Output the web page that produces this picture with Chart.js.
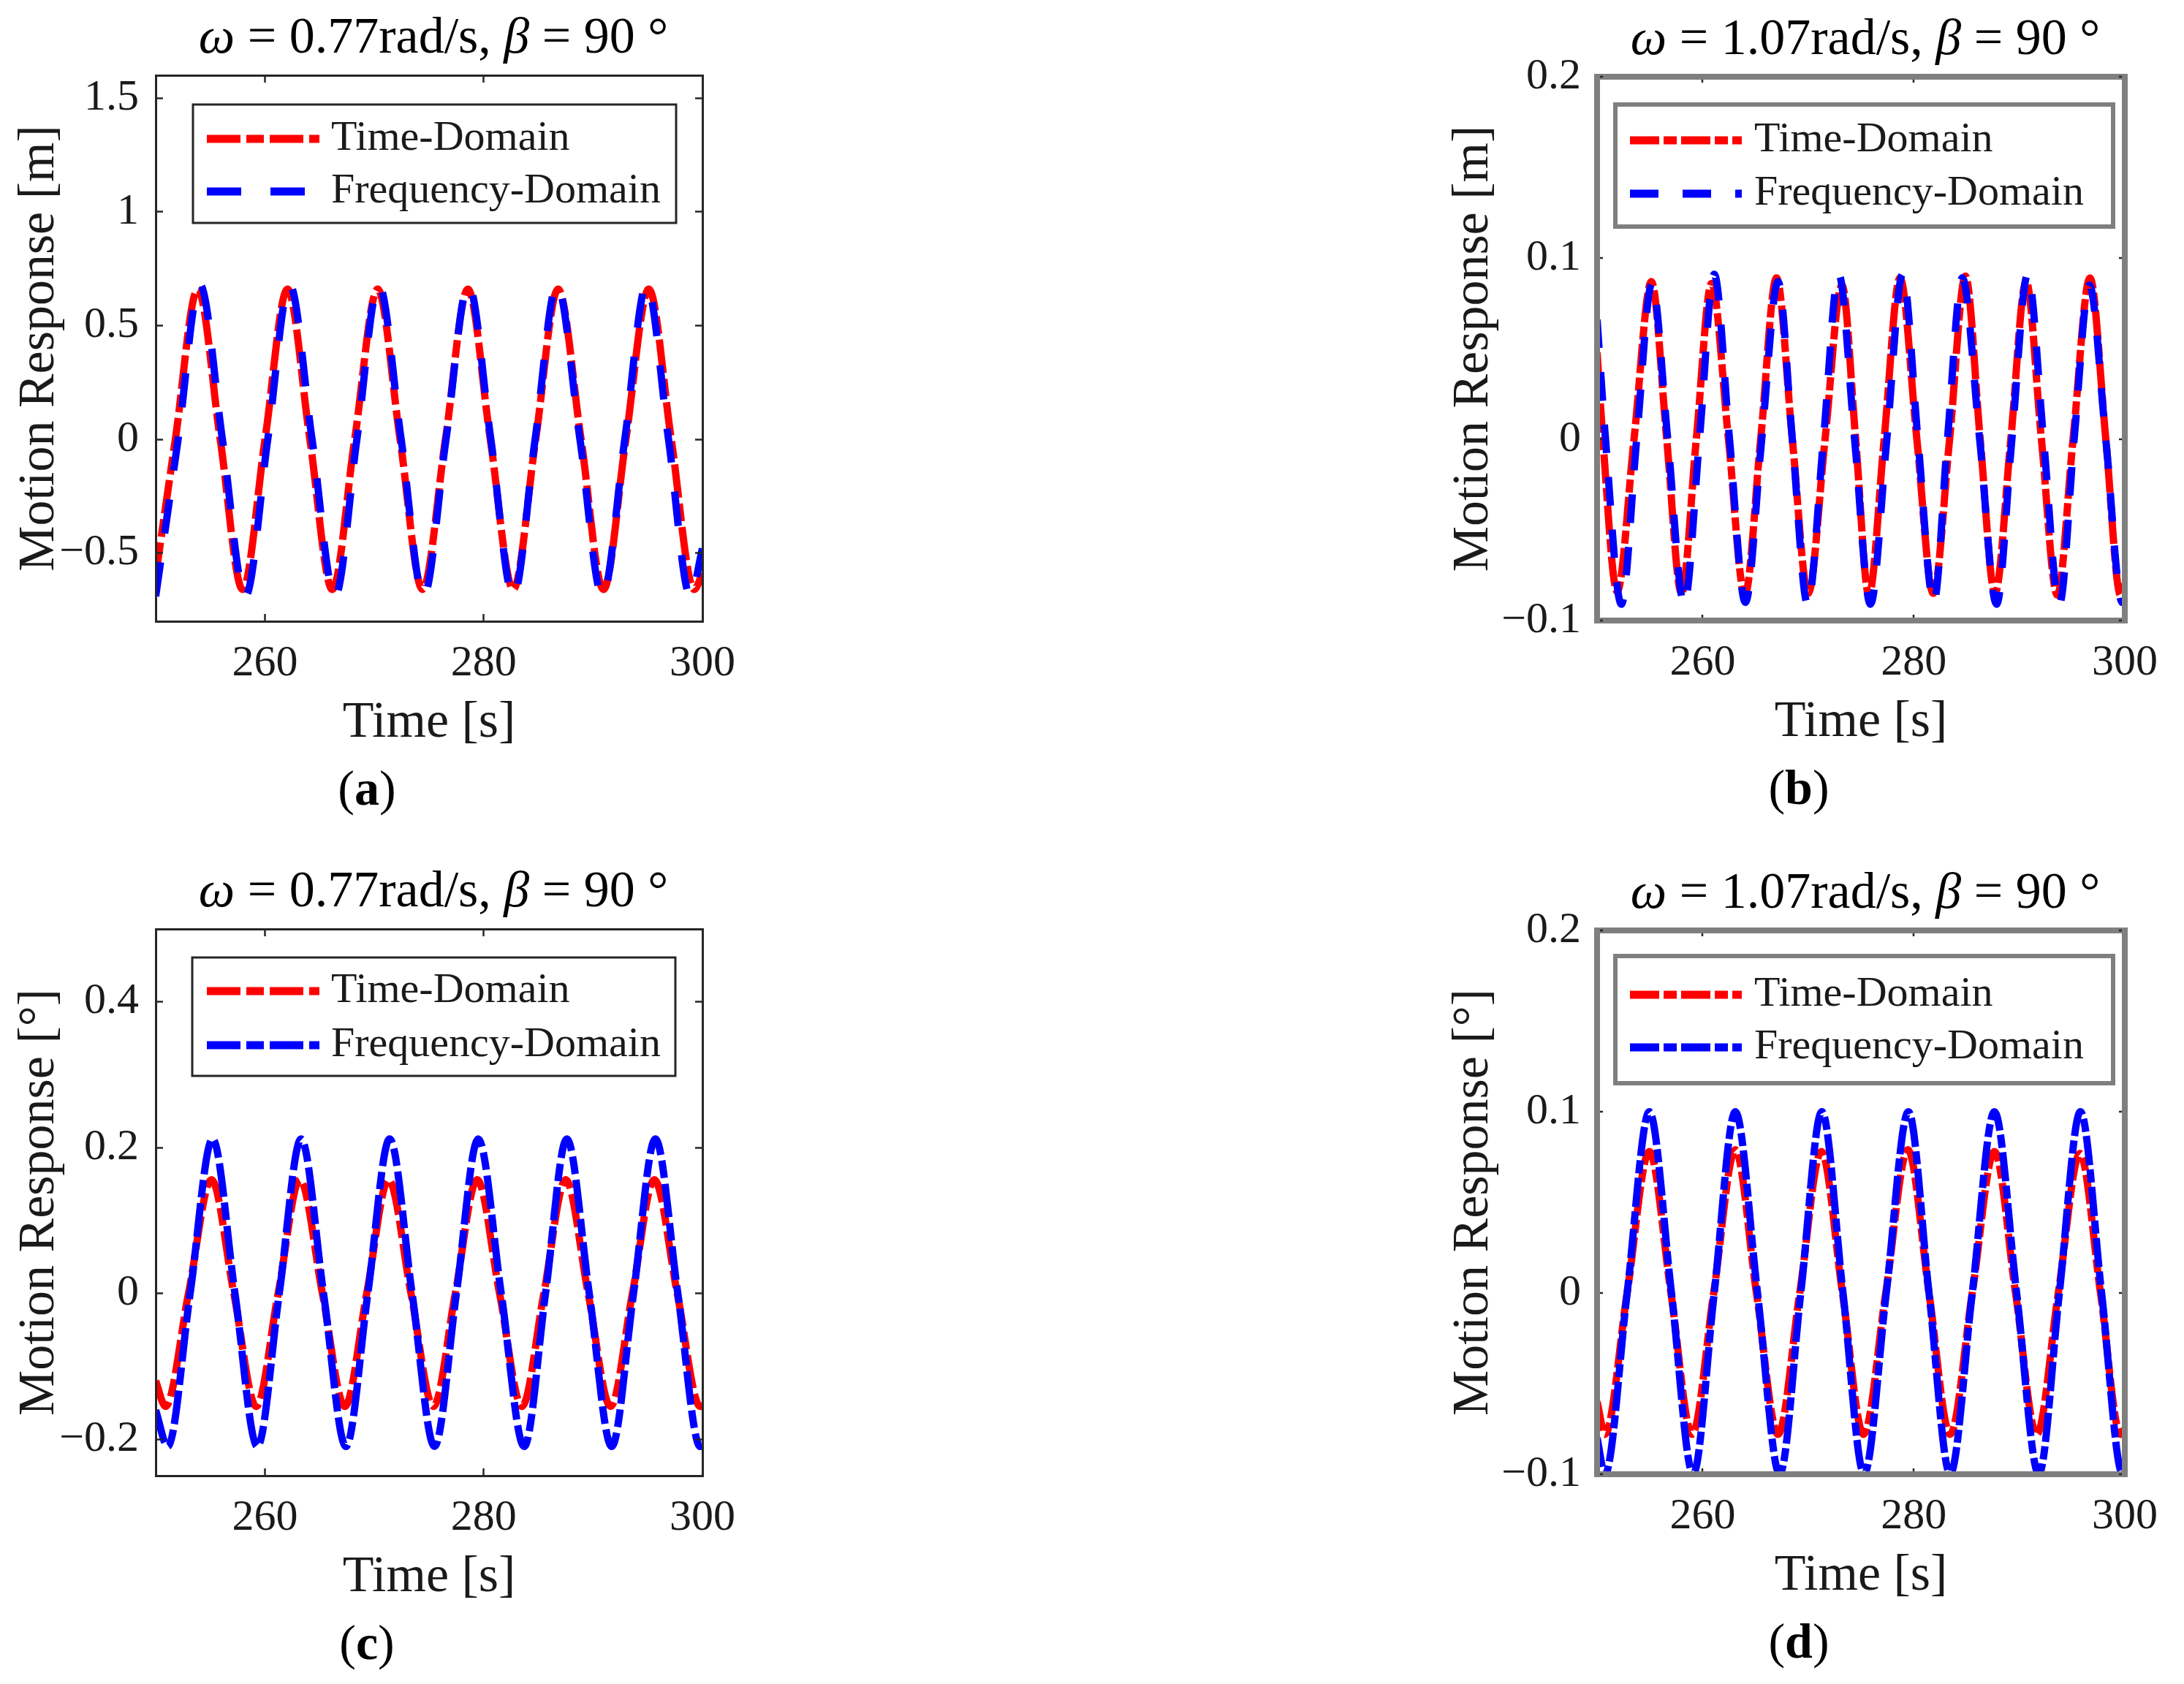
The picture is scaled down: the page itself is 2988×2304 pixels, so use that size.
<!DOCTYPE html>
<html>
<head>
<meta charset="utf-8">
<script src="https://cdn.jsdelivr.net/npm/chart.js@4.4.1/dist/chart.umd.min.js"></script>
<style>
  body { margin: 0; background: #fff; width: 2988px; height: 2304px; position: relative; overflow: hidden; }
  canvas { position: absolute; }
</style>
</head>
<body>
<canvas id="graficoA" width="1100" height="1160" style="left:0px;top:0px"></canvas>
<canvas id="graficoB" width="1088" height="1160" style="left:1900px;top:0px"></canvas>
<canvas id="graficoC" width="1100" height="1144" style="left:0px;top:1160px"></canvas>
<canvas id="graficoD" width="1088" height="1144" style="left:1900px;top:1160px"></canvas>
<script>

// ticks
var ticksTempo = [260, 280, 300];
var aTicksY = [-0.5, 0, 0.5, 1, 1.5];
var bTicksY = [-0.1, 0, 0.1, 0.2];
var cTicksY = [-0.2, 0, 0.2, 0.4];
var dTicksY = [-0.1, 0, 0.1, 0.2];

// (a) heave, w = 0.77 rad/s  -- picos, vales e cruzamentos
var aTempoT = [250, 251.8, 253.85, 255.9, 257.95, 260.0, 262.05, 264.1, 266.15, 268.2, 270.3, 272.35, 274.4,
               276.5, 278.55, 280.6, 282.7, 284.75, 286.8, 288.9, 290.95, 293.0, 295.1, 297.15, 299.25, 300];
var aTempoY = [-0.60, 0, 0.66, 0, -0.66, 0, 0.66, 0, -0.66, 0, 0.66, 0, -0.66,
               0, 0.66, 0, -0.66, 0, 0.66, 0, -0.66, 0, 0.66, 0, -0.66, -0.59];
var aFreqT = [250, 252.05, 254.05, 256.1, 258.2, 260.25, 262.25, 264.3, 266.4, 268.4, 270.4, 272.45, 274.5,
              276.55, 278.6, 280.65, 282.7, 284.7, 286.7, 288.8, 290.85, 292.9, 294.9, 296.9, 298.9, 300];
var aFreqY = [-0.69, 0, 0.68, 0, -0.69, 0, 0.68, 0, -0.69, 0, 0.68, 0, -0.69,
              0, 0.68, 0, -0.69, 0, 0.68, 0, -0.69, 0, 0.68, 0, -0.69, -0.48];

// (b) heave, w = 1.07 rad/s
var bTempoT = [250, 250.55, 251.9, 253.5, 255.15, 256.6, 258.0, 259.4, 260.85, 262.45, 264.0, 265.5, 267.0, 268.5,
               270.0, 271.6, 273.2, 274.5, 275.75, 277.2, 278.7, 280.3, 281.85, 283.4, 284.9, 286.3, 287.7,
               289.2, 290.65, 292.1, 293.6, 295.1, 296.7, 298.2, 299.6, 300];
var bTempoY = [0.048, 0, -0.084, 0, 0.087, 0, -0.085, 0, 0.086, 0, -0.086, 0, 0.089, 0,
               -0.085, 0, 0.085, 0, -0.086, 0, 0.089, 0, -0.085, 0, 0.09, 0, -0.085,
               0, 0.087, 0, -0.086, 0, 0.089, 0, -0.086, -0.08];
var bFreqT = [250, 250.8, 252.3, 253.75, 255.2, 256.7, 258.25, 259.7, 261.1, 262.55, 264.05, 265.6, 267.15, 268.5,
              269.95, 271.45, 272.9, 274.4, 275.9, 277.45, 278.95, 280.4, 281.9, 283.2, 284.6, 286.25, 287.85,
              289.3, 290.8, 292.3, 293.8, 295.2, 296.65, 298.2, 299.75, 300];
var bFreqY = [0.066, 0, -0.091, 0, 0.086, 0, -0.091, 0, 0.091, 0, -0.09, 0, 0.087, 0,
              -0.091, 0, 0.091, 0, -0.091, 0, 0.091, 0, -0.09, 0, 0.089, 0, -0.091,
              0, 0.091, 0, -0.091, 0, 0.085, 0, -0.09, -0.089];

// (c) roll, w = 0.77 rad/s
var cTempoT = [250, 250.9, 253.0, 255.1, 257.15, 259.2, 261.2, 263.2, 265.25, 267.3, 269.3, 271.3, 273.35, 275.4,
               277.4, 279.4, 281.45, 283.5, 285.5, 287.5, 289.55, 291.6, 293.6, 295.6, 297.7, 299.8, 300];
var cTempoY = [-0.12, -0.155, 0, 0.156, 0, -0.155, 0, 0.156, 0, -0.155, 0, 0.156, 0, -0.155,
               0, 0.156, 0, -0.155, 0, 0.156, 0, -0.155, 0, 0.156, 0, -0.155, -0.154];
var cFreqT = [250, 251.1, 253.15, 255.2, 257.25, 259.3, 261.3, 263.3, 265.35, 267.4, 269.4, 271.4, 273.45, 275.5,
              277.5, 279.5, 281.6, 283.7, 285.65, 287.6, 289.65, 291.7, 293.7, 295.7, 297.75, 299.8, 300];
var cFreqY = [-0.16, -0.21, 0, 0.212, 0, -0.21, 0, 0.212, 0, -0.21, 0, 0.212, 0, -0.21,
              0, 0.212, 0, -0.21, 0, 0.212, 0, -0.21, 0, 0.212, 0, -0.21, -0.208];

// (d) roll, w = 1.07 rad/s
var dTempoT = [250, 250.75, 252.85, 254.95, 257.0, 259.0, 261.05, 263.1, 265.1, 267.15, 269.2, 271.25, 273.25, 275.25,
               277.35, 279.45, 281.45, 283.45, 285.55, 287.65, 289.65, 291.65, 293.7, 295.75, 297.7, 299.6, 300];
var dTempoY = [-0.06, -0.078, 0, 0.078, 0, -0.078, 0, 0.079, 0, -0.078, 0, 0.078, 0, -0.078,
               0, 0.079, 0, -0.078, 0, 0.078, 0, -0.078, 0, 0.077, 0, -0.078, -0.075];
var dFreqT = [250, 250.75, 252.85, 254.95, 257.05, 259.1, 261.1, 263.1, 265.2, 267.3, 269.3, 271.3, 273.3, 275.3,
              277.4, 279.5, 281.45, 283.45, 285.55, 287.65, 289.75, 291.85, 293.8, 295.8, 297.8, 299.8, 300];
var dFreqY = [-0.08, -0.1, 0, 0.1, 0, -0.1, 0, 0.1, 0, -0.1, 0, 0.1, 0, -0.1,
              0, 0.1, 0, -0.1, 0, 0.1, 0, -0.1, 0, 0.1, 0, -0.1, -0.099];

var fam = '"Liberation Serif", "Times New Roman", serif';
var cor = '#1a1a1a';

function pontos(t, y) {
	return t.map(function(v, i){ return {x: v, y: y[i]}; });
}

function formatar(v) {
	return v < 0 ? '\u2212' + Math.abs(v) : String(v);
}

function fixar(vals) {
	return function(s){ s.ticks = vals.map(function(v){ return {value: v}; }); };
}

function textoMisto(ctx, partes, cx, cy) {
	var total = 0;
	partes.forEach(function(p){ ctx.font = p.f; p.w = ctx.measureText(p.t).width; total += p.w; });
	var x = cx - total / 2;
	partes.forEach(function(p){ ctx.font = p.f; ctx.fillText(p.t, x, cy); x += p.w; });
}

// titulo, legenda com moldura e rotulo (a)/(b)...
var decoracao = {
	id: 'decoracao',
	afterDraw: function(chart, args, o) {
		var ctx = chart.ctx, area = chart.chartArea;
		var meio = (area.left + area.right) / 2;
		ctx.save();
		ctx.textBaseline = 'middle';
		ctx.textAlign = 'left';
		ctx.fillStyle = '#000';
		textoMisto(ctx, [
			{t: '\u03c9', f: 'italic 70px ' + fam},
			{t: ' = ' + o.omega + 'rad/s, ', f: '70px ' + fam},
			{t: '\u03b2', f: 'italic 70px ' + fam},
			{t: ' = 90 \u00b0', f: '70px ' + fam}
		], meio + 6, area.top - 49);

		textoMisto(ctx, [
			{t: '(', f: '68px ' + fam},
			{t: o.letra, f: 'bold 68px ' + fam},
			{t: ')', f: '68px ' + fam}
		], meio - 85, area.bottom + 233);

		var lg = o.legenda;
		ctx.fillStyle = '#fff';
		ctx.fillRect(lg.left, lg.top, lg.right - lg.left, lg.bottom - lg.top);
		ctx.strokeStyle = o.corMoldura;
		ctx.lineWidth = o.larguraLegenda;
		ctx.strokeRect(lg.left, lg.top, lg.right - lg.left, lg.bottom - lg.top);
		chart.data.datasets.forEach(function(ds, i){
			var y = lg.linhas[i];
			ctx.beginPath();
			ctx.setLineDash(ds.borderDash);
			ctx.strokeStyle = ds.borderColor;
			ctx.lineWidth = 11;
			ctx.moveTo(lg.x1, y);
			ctx.lineTo(lg.x2, y);
			ctx.stroke();
			ctx.setLineDash([]);
			ctx.fillStyle = cor;
			ctx.font = '58px ' + fam;
			ctx.fillText(ds.label, lg.xTexto, y);
		});
		ctx.restore();
	}
};

function exibirGrafico(id, p) {
	var cv = document.getElementById(id);
	var area = p.area;
	var tl = p.tick;
	var fonteTick = {family: fam, size: 60, lineHeight: 1};
	var fonteTitulo = {family: fam, size: 70, lineHeight: 1};
	var grade = {drawOnChartArea: false, drawTicks: true, tickLength: -tl, tickWidth: 2.5,
	             tickColor: '#262626', lineWidth: p.larguraMoldura, color: p.corMoldura, z: 1};
	var borda = {display: true, color: p.corMoldura, width: p.larguraMoldura, z: 1};

	var data = {
		datasets: [
			{
				label: 'Time-Domain',
				data: pontos(p.tempoT, p.tempoY),
				borderColor: '#ff0000',
				borderWidth: 10,
				borderDash: p.tracoTempo,
				order: 2
			},
			{
				label: 'Frequency-Domain',
				data: pontos(p.freqT, p.freqY),
				borderColor: '#0000ff',
				borderWidth: 10,
				borderDash: p.tracoFreq,
				order: 1
			}
		]
	};

	var options = {
		responsive: false,
		animation: false,
		devicePixelRatio: 1,
		layout: {padding: {left: 0, top: area.top, right: cv.width - area.right, bottom: cv.height - area.bottom - 200}},
		elements: {
			point: {radius: 0},
			line: {cubicInterpolationMode: 'monotone', fill: false}
		},
		datasets: {line: {clip: 0}},
		plugins: {
			legend: {display: false},
			tooltip: {enabled: false},
			decoracao: {
				omega: p.omega, letra: p.letra, legenda: p.legenda,
				corMoldura: p.corMoldura, larguraLegenda: p.larguraLegenda
			}
		},
		scales: {
			x: {
				type: 'linear', position: 'bottom', min: 250, max: 300,
				afterBuildTicks: fixar(ticksTempo),
				afterFit: function(s){ s.height = 200; },
				grid: grade, border: borda,
				ticks: {font: fonteTick, color: cor, padding: 58 + tl - 30, maxRotation: 0, autoSkip: false, callback: formatar},
				title: {display: true, text: 'Time [s]', font: fonteTitulo, color: cor, padding: {top: 0, bottom: 25}}
			},
			x2: {
				type: 'linear', position: 'top', min: 250, max: 300,
				afterBuildTicks: fixar(ticksTempo),
				afterFit: function(s){ s.height = 0; },
				grid: grade, border: borda,
				ticks: {display: false}
			},
			y: {
				type: 'linear', position: 'left', min: p.limY[0], max: p.limY[1],
				afterBuildTicks: fixar(p.ticksY),
				afterFit: function(s){ s.width = area.left; },
				grid: grade, border: borda,
				ticks: {font: fonteTick, color: cor, padding: p.folgaY + tl, autoSkip: false, callback: formatar},
				title: {display: true, text: p.tituloY, font: fonteTitulo, color: cor, padding: {top: p.tituloYx - 35, bottom: 0}}
			},
			y2: {
				type: 'linear', position: 'right', min: p.limY[0], max: p.limY[1],
				afterBuildTicks: fixar(p.ticksY),
				afterFit: function(s){ s.width = 0; },
				grid: grade, border: borda,
				ticks: {display: false}
			}
		}
	};

	new Chart(cv.getContext('2d'), {type: 'line', data: data, options: options, plugins: [decoracao]});
}

exibirGrafico('graficoA', {
	omega: '0.77', letra: 'a', tituloY: 'Motion Response [m]',
	tempoT: aTempoT, tempoY: aTempoY, freqT: aFreqT, freqY: aFreqY,
	limY: [-0.8, 1.6], ticksY: aTicksY,
	area: {left: 213, top: 103, right: 961, bottom: 850},
	tick: 10, folgaY: 23, tituloYx: 55,
	corMoldura: '#262626', larguraMoldura: 3, larguraLegenda: 3,
	tracoTempo: [46, 8, 24, 8], tracoFreq: [47, 40],
	legenda: {left: 264, top: 143, right: 925, bottom: 305, linhas: [190, 262], x1: 283, x2: 437, xTexto: 453}
});

exibirGrafico('graficoB', {
	omega: '1.07', letra: 'b', tituloY: 'Motion Response [m]',
	tempoT: bTempoT, tempoY: bTempoY, freqT: bFreqT, freqY: bFreqY,
	limY: [-0.1, 0.2], ticksY: bTicksY,
	area: {left: 285, top: 105, right: 1027, bottom: 849},
	tick: 8, folgaY: 22, tituloYx: 117,
	corMoldura: '#7f7f7f', larguraMoldura: 8, larguraLegenda: 6,
	tracoTempo: [40, 6, 18, 6], tracoFreq: [39, 33],
	legenda: {left: 310, top: 143, right: 991, bottom: 310, linhas: [192, 265], x1: 330, x2: 483, xTexto: 500}
});

exibirGrafico('graficoC', {
	omega: '0.77', letra: 'c', tituloY: 'Motion Response [\u00b0]',
	tempoT: cTempoT, tempoY: cTempoY, freqT: cFreqT, freqY: cFreqY,
	limY: [-0.25, 0.5], ticksY: cTicksY,
	area: {left: 213, top: 111, right: 961, bottom: 859},
	tick: 10, folgaY: 23, tituloYx: 55,
	corMoldura: '#262626', larguraMoldura: 3, larguraLegenda: 3,
	tracoTempo: [46, 8, 24, 8], tracoFreq: [46, 8, 24, 8],
	legenda: {left: 263, top: 150, right: 924, bottom: 312, linhas: [196, 270], x1: 283, x2: 437, xTexto: 453}
});

exibirGrafico('graficoD', {
	omega: '1.07', letra: 'd', tituloY: 'Motion Response [\u00b0]',
	tempoT: dTempoT, tempoY: dTempoY, freqT: dFreqT, freqY: dFreqY,
	limY: [-0.1, 0.2], ticksY: dTicksY,
	area: {left: 285, top: 113, right: 1027, bottom: 857},
	tick: 8, folgaY: 22, tituloYx: 117,
	corMoldura: '#7f7f7f', larguraMoldura: 8, larguraLegenda: 6,
	tracoTempo: [40, 6, 18, 6], tracoFreq: [40, 6, 18, 6],
	legenda: {left: 310, top: 148, right: 991, bottom: 322, linhas: [201, 273], x1: 330, x2: 483, xTexto: 500}
});

</script>
</body>
</html>
